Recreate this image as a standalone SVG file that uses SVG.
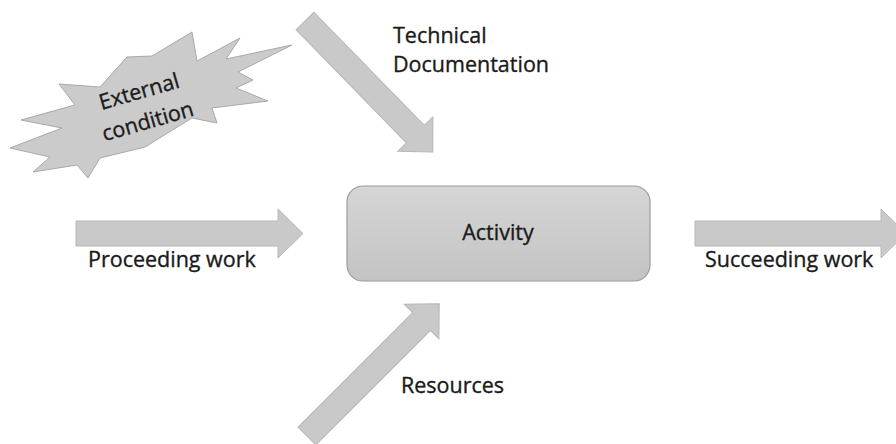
<svg xmlns="http://www.w3.org/2000/svg" width="896" height="444" viewBox="0 0 896 444">
  <style>
    .lbl { font-family: "Open Sans", "Liberation Sans", sans-serif; font-size: 21.5px; fill: #1a1a1a; stroke: #1a1a1a; stroke-width: 0.35px; }
    .arrow { fill: #c9c9c9; stroke: #b7b7b7; stroke-width: 1; }
  </style>
  <defs>
    <linearGradient id="boxg" x1="0" y1="0" x2="0" y2="1">
      <stop offset="0" stop-color="#d6d6d6"/>
      <stop offset="1" stop-color="#c3c3c3"/>
    </linearGradient>
  </defs>
  <rect width="896" height="444" fill="#ffffff"/>

  <g id="connectors">
    <g id="proceeding">
      <polygon class="arrow" points="76,221 278,221 278,209 303,233.5 278,258 278,246 76,246"/>
      <text class="lbl" x="88" y="267">Proceeding work</text>
    </g>
    <g id="succeeding">
      <polygon class="arrow" points="695,221 881,221 881,209 906,233.5 881,258 881,246 695,246"/>
      <text class="lbl" x="705" y="267">Succeeding work</text>
    </g>
    <g id="technical">
      <polygon class="arrow" transform="translate(305,21) rotate(45.7)" points="0,-12.5 158,-12.5 158,-24.5 183,0 158,24.5 158,12.5 0,12.5"/>
      <text class="lbl" x="393" y="43">Technical</text>
      <text class="lbl" x="393" y="72">Documentation</text>
    </g>
    <g id="resources">
      <polygon class="arrow" transform="translate(307,436) rotate(-45)" points="0,-12.5 162,-12.5 162,-24.5 187,0 162,24.5 162,12.5 0,12.5"/>
      <text class="lbl" x="401" y="393">Resources</text>
    </g>
  </g>

  <g id="external-condition">
    <polygon fill="#cbcbcb" stroke="#a9a9a9" stroke-width="1" points="192,32 197,61 240,38 226,59 292,45 238,72 253,80 236,88 268,101 212,108 217,123 192,118 145,147 100,158 88,178 77,165 33,172 50,157 10,148 62,128 21,120 75,105 59,84 100,87 127,57 152,56"/>
    <g transform="translate(145,112) rotate(-16)">
      <text class="lbl" x="0" y="-14" text-anchor="middle">External</text>
      <text class="lbl" x="0" y="17" text-anchor="middle">condition</text>
    </g>
  </g>

  <g id="activity">
    <rect x="347" y="186" width="303" height="95" rx="16" ry="16" fill="url(#boxg)" stroke="#9c9c9c" stroke-width="1.2"/>
    <text class="lbl" x="498" y="240" text-anchor="middle">Activity</text>
  </g>
</svg>
